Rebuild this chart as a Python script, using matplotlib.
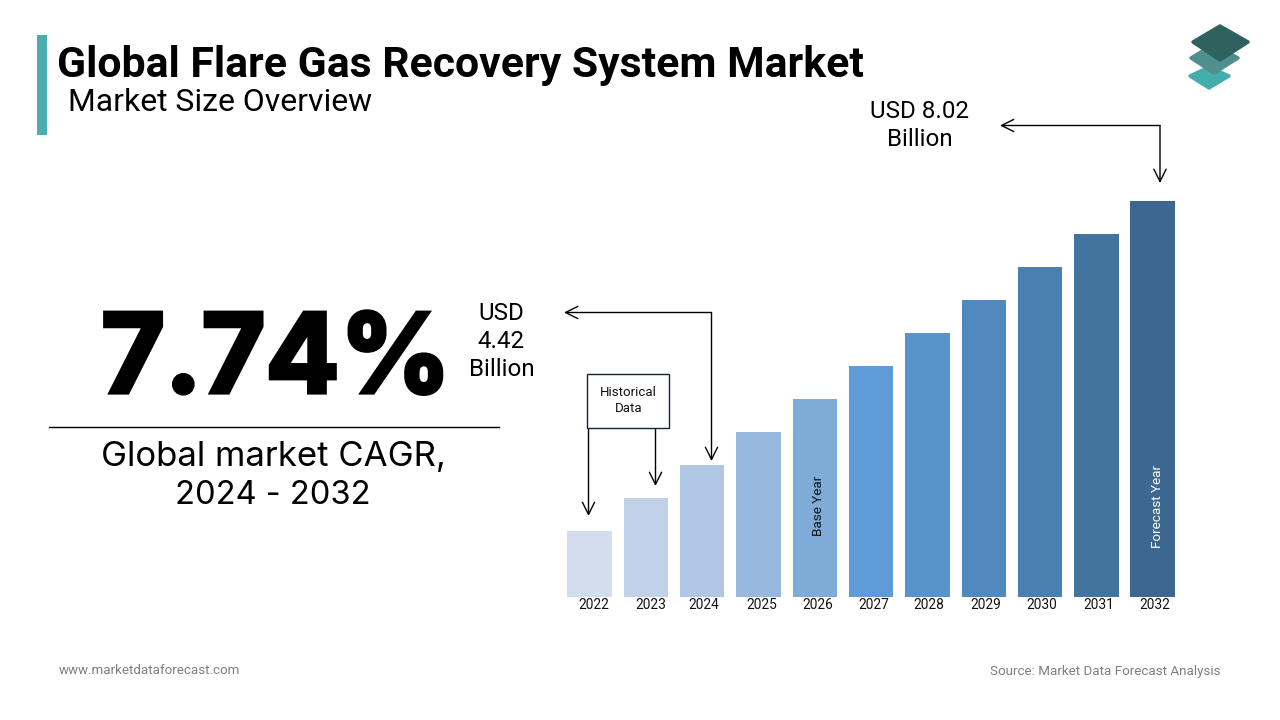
import matplotlib
matplotlib.use('Agg')
import matplotlib.pyplot as plt
import matplotlib.patheffects as pe
from matplotlib.patches import Polygon, Rectangle

years = ['2022', '2023', '2024', '2025', '2026', '2027', '2028', '2029', '2030', '2031', '2032']
# bar heights (the bars are drawn as even steps)
heights = [66, 99, 132, 165, 198, 231, 264, 297, 330, 363, 396]
barColors = ['#D2DEEE', '#C0D1E9', '#AFC7E4', '#98B9DF', '#7FABD9', '#5F9BD6',
             '#5893CB', '#5089BD', '#4A80B0', '#43739F', '#3C678E']
labelShift = [4, 5, 2, 3, 3, 3, 1, 2, 2, 2, 2]

W, H = 1280, 720
fig = plt.figure(figsize=(W / 100, H / 100), dpi=100, facecolor='white')

# full page axes in pixel coordinates for the slide furniture
page = fig.add_axes([0, 0, 1, 1])
page.set_xlim(0, W)
page.set_ylim(H, 0)
page.axis('off')

# bars
left, right, bottom, top = 561.5, 1180.8, 597, 201
ax = fig.add_axes([left / W, 1 - bottom / H, (right - left) / W, (bottom - top) / H])
x = list(range(len(years)))
ax.bar(x, heights, width=0.79, color=barColors)
ax.set_xlim(-0.5, len(years) - 0.5)
ax.set_ylim(0, 396)
ax.axis('off')
for i, year in enumerate(years):
    ax.annotate(year, xy=(i, 0), xytext=(labelShift[i], -1), textcoords='offset pixels',
                ha='center', va='top', fontsize=9.9, family='Roboto', color='#111111',
                annotation_clip=False)
ax.text(4.07, 91, 'Base Year', rotation=90, ha='center', va='center',
        fontsize=9.7, family='Roboto', color='#111111')
ax.text(10.09, 90, 'Forecast Year', rotation=90, ha='center', va='center',
        fontsize=9.7, family='Roboto', color='white')

# header
page.add_patch(Rectangle((37, 35), 10, 100, color='#4BADB0', lw=0))
page.text(57, 65, 'Global Flare Gas Recovery System Market', family='Roboto', weight='bold',
          fontsize=30.75, va='center', ha='left', color='black')
page.text(68, 102.5, 'Market Size Overview', family='Roboto', fontsize=22.95,
          va='center', ha='left', color='black')

# logo
page.add_patch(Polygon([(1209, 67), (1229, 76), (1209, 88), (1190, 76)], closed=True,
                       fc='#45ACAE', ec='#45ACAE', lw=2.5, joinstyle='round'))
page.add_patch(Polygon([(1214, 44), (1238, 58), (1214, 73), (1191, 58)], closed=True,
                       fc='#4F8F8D', ec='#4F8F8D', lw=2.5, joinstyle='round'))
page.add_patch(Polygon([(1220, 26), (1248, 42), (1220, 60), (1193, 42)], closed=True,
                       fc='#2F615F', ec='#2F615F', lw=2.5, joinstyle='round'))

# left block, stroked since no installed font is as heavy as the original
page.text(276, 364, '7.74%', family='Inter', weight='bold', fontsize=79,
          ha='center', va='center', color='black',
          path_effects=[pe.withStroke(linewidth=3, foreground='black', joinstyle='miter')])
page.plot([49, 499], [427, 427], color='black', lw=1)
page.text(273, 456.5, 'Global market CAGR,', family='Inter', fontsize=25,
          ha='center', va='center', color='black')
page.text(273, 496, '2024 - 2032', family='Inter', fontsize=23.5,
          ha='center', va='center', color='black')

# callouts
txt = dict(family='Roboto', fontsize=17.4, ha='center', va='center', color='black')
page.text(919.5, 111, 'USD 8.02', **txt)
page.text(919.5, 140, 'Billion', **txt)
page.text(501.5, 313, 'USD', **txt)
page.text(501.5, 342, '4.42', **txt)
page.text(501.5, 370, 'Billion', **txt)


def arrow(points):
    xs = [p[0] for p in points[:-1]]
    ys = [p[1] for p in points[:-1]]
    page.plot(xs, ys, color='black', lw=1)
    page.annotate('', xy=points[-1], xytext=points[-2],
                  arrowprops=dict(arrowstyle='->', color='black', lw=1,
                                  mutation_scale=22, shrinkA=0, shrinkB=0))


arrow([(1160, 125.5), (1160, 183)])
arrow([(1160, 125.5), (1000, 125.5)])
arrow([(711.5, 312.5), (711.5, 461)])
arrow([(711.5, 312.5), (564, 312.5)])
arrow([(588.5, 427), (588.5, 516)])
arrow([(655.5, 427), (655.5, 486)])

page.add_patch(Rectangle((587, 374), 82, 53.5, fc='white', ec='#12263A', lw=1, zorder=3))
page.text(628.5, 393, 'Historical', family='Roboto', fontsize=9.5, ha='center', va='center', color='#111111', zorder=4)
page.text(628.5, 409, 'Data', family='Roboto', fontsize=9.5, ha='center', va='center', color='#111111', zorder=4)

# footer
page.text(59, 671, 'www.marketdataforecast.com', family='Roboto', fontsize=9.6,
          ha='left', va='center', color='#7F7F7F')
page.text(1220, 671, 'Source: Market Data Forecast Analysis', family='Roboto', fontsize=9.6,
          ha='right', va='center', color='#7F7F7F')

plt.savefig('out.png', dpi=100)
plt.close()
